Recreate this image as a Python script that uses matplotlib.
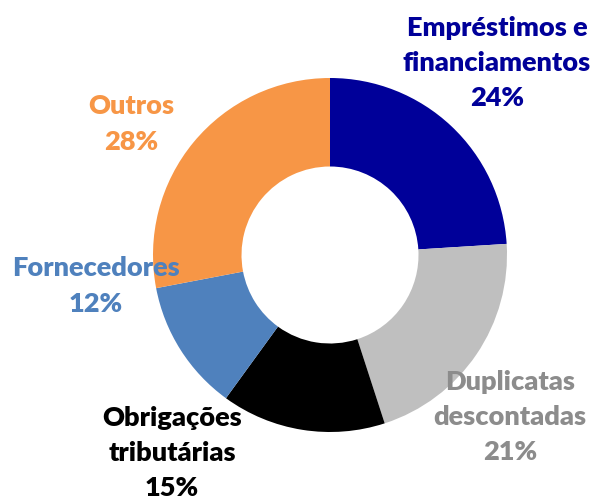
import matplotlib
matplotlib.use("Agg")
import matplotlib.pyplot as plt

categories = ["Empréstimos e\nfinanciamentos", "Duplicatas\ndescontadas",
              "Obrigações\ntributárias", "Fornecedores", "Outros"]
values = [24, 21, 15, 12, 28]
colors = ["#000099", "#BFBFBF", "#000000", "#4F81BD", "#F79646"]
label_colors = ["#000099", "#8C8C8C", "#000000", "#4F81BD", "#F79646"]

W, H = 593, 496
fig = plt.figure(figsize=(W / 100, H / 100), dpi=100)
cx, cy, R = 330, 255, 177
ax = fig.add_axes([(cx - R) / W, (H - cy - R) / H, 2 * R / W, 2 * R / H])
ax.pie(values, colors=colors, startangle=90, counterclock=False, radius=1,
       wedgeprops=dict(width=0.5, edgecolor="none"))
ax.set_xlim(-1, 1)
ax.set_ylim(-1, 1)
ax.set_aspect("equal")
ax.axis("off")

# label block centers in pixel space
label_pos = [(497, 63), (510, 417), (172, 453), (96, 286), (131, 124)]
for cat, val, col, (px, py) in zip(categories, values, label_colors, label_pos):
    ax.text((px - cx) / R, (cy - py) / R, f"{cat}\n{val}%", ha="center", va="center",
            fontsize=19.5, fontweight="heavy", color=col, family="Lato",
            linespacing=1.55, clip_on=False)

fig.savefig("out.png", dpi=100)
